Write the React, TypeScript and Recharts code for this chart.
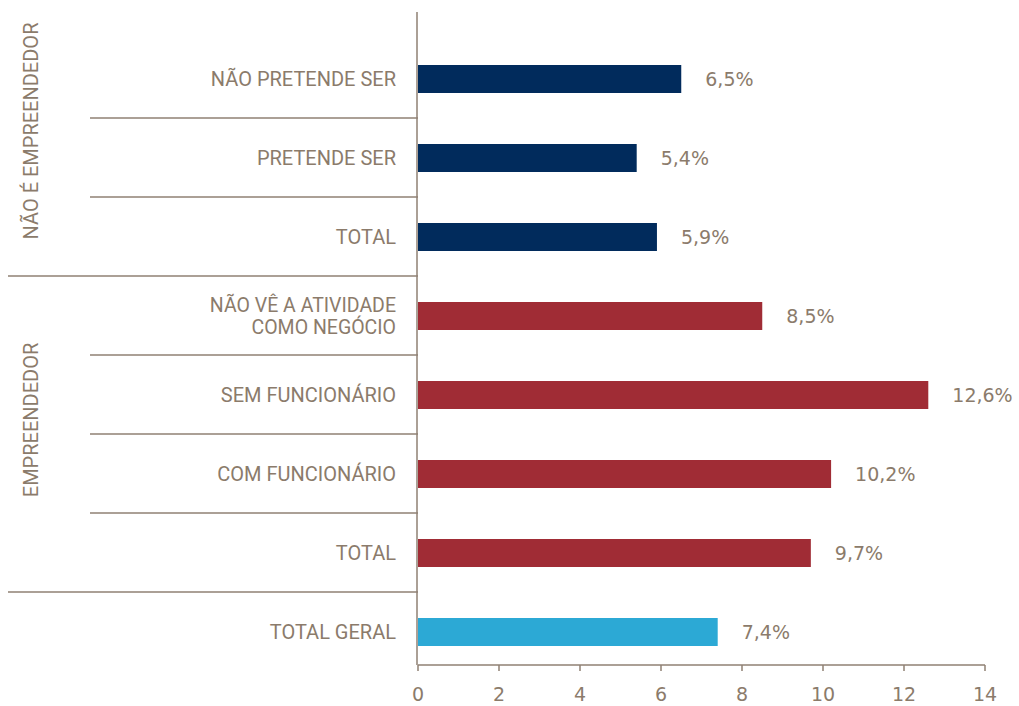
import React from 'react';
import { BarChart, Bar, XAxis, YAxis, Cell, LabelList, Customized } from 'recharts';

if (typeof document !== 'undefined') document.body.style.margin = '0';

const categories = [
  'NÃO PRETENDE SER',
  'PRETENDE SER',
  'TOTAL',
  'NÃO VÊ A ATIVIDADE\nCOMO NEGÓCIO',
  'SEM FUNCIONÁRIO',
  'COM FUNCIONÁRIO',
  'TOTAL',
  'TOTAL GERAL',
];
const values = [6.5, 5.4, 5.9, 8.5, 12.6, 10.2, 9.7, 7.4];
const groups = ['nao', 'nao', 'nao', 'emp', 'emp', 'emp', 'emp', 'geral'];
const groupLabels = ['NÃO É EMPREENDEDOR', 'EMPREENDEDOR'];
const xTicks = [0, 2, 4, 6, 8, 10, 12, 14];

const GROUP_COLORS: Record<string, string> = {
  nao: '#012b5c',
  emp: '#a02c35',
  geral: '#2ca9d5',
};

const W = 1019;
const H = 706;
const AXIS_X = 418;
const PLOT_TOP = 39;
const PLOT_BOTTOM = 665;
const PAD_BOTTOM = -6;
const BAND = (PLOT_BOTTOM - PAD_BOTTOM - PLOT_TOP) / categories.length;
const TEXT = '#8b7b6b';
const LINE = '#8f8173';
const FONT = 'Roboto, "Liberation Sans", Arial, sans-serif';
const NUM_FONT = '"DejaVu Sans", Verdana, sans-serif';

const data = values.map((v, i) => ({ id: `r${i}`, value: v, group: groups[i] }));

const CategoryTick = (props: any) => {
  const { y, index } = props;
  const lines = categories[index].split('\n');
  const lineH = 22;
  const startY = y - ((lines.length - 1) * lineH) / 2;
  const sepY = y + BAND / 2;
  const last = index >= categories.length - 1;
  const groupEnd = !last && groups[index] !== groups[index + 1];
  return (
    <g>
      <text x={AXIS_X - 22} y={startY} textAnchor="end" fill={TEXT} fontSize={lines.length > 1 ? 19.5 : 20} fontFamily={FONT}>
        {lines.map((l, i) => (
          <tspan key={i} x={AXIS_X - 22} dy={i === 0 ? '0.36em' : lineH}>
            {l}
          </tspan>
        ))}
      </text>
      {!last && (
        <line x1={groupEnd ? 8 : 90} x2={AXIS_X} y1={sepY} y2={sepY} stroke={LINE} strokeWidth={1.5} />
      )}
    </g>
  );
};

const Decorations = () => (
  <g>
    <line x1={AXIS_X - 1} x2={AXIS_X - 1} y1={12} y2={PLOT_BOTTOM} stroke={LINE} strokeWidth={1.5} />
    <text
      x={31}
      y={131}
      transform="rotate(-90 31 131)"
      textAnchor="middle"
      dominantBaseline="central"
      fill={TEXT}
      fontSize={20}
      fontFamily={FONT}
    >
      {groupLabels[0]}
    </text>
    <text
      x={31}
      y={420}
      transform="rotate(-90 31 420)"
      textAnchor="middle"
      dominantBaseline="central"
      fill={TEXT}
      fontSize={20}
      fontFamily={FONT}
    >
      {groupLabels[1]}
    </text>
  </g>
);

const fmt = (v: any) => `${Number(v).toFixed(1).replace('.', ',')}%`;

export default function App() {
  return (
    <div style={{ width: W, height: H, background: '#fff' }}>
      <BarChart
        width={W}
        height={H}
        data={data}
        layout="vertical"
        margin={{ top: PLOT_TOP, right: W - 985, bottom: 0, left: 0 }}
      >
        <XAxis
          type="number"
          domain={[0, 14]}
          ticks={xTicks}
          height={H - PLOT_BOTTOM}
          axisLine={{ stroke: LINE, strokeWidth: 1.5 }}
          tickLine={{ stroke: LINE, strokeWidth: 1.5 }}
          tickSize={6}
          tickMargin={17}
          tick={{ fill: TEXT, fontSize: 19, fontFamily: NUM_FONT }}
        />
        <YAxis
          type="category"
          dataKey="id"
          width={AXIS_X}
          axisLine={false}
          tickLine={false}
          padding={{ top: 0, bottom: PAD_BOTTOM }}
          interval={0}
          tick={<CategoryTick />}
        />
        <Bar dataKey="value" barSize={28} isAnimationActive={false}>
          {data.map((d, i) => (
            <Cell key={`c-${i}`} fill={GROUP_COLORS[d.group]} />
          ))}
          <LabelList
            dataKey="value"
            position="right"
            offset={24}
            formatter={fmt}
            fill={TEXT}
            fontSize={19}
            fontFamily={NUM_FONT}
          />
        </Bar>
        <Customized component={Decorations} />
      </BarChart>
    </div>
  );
}
